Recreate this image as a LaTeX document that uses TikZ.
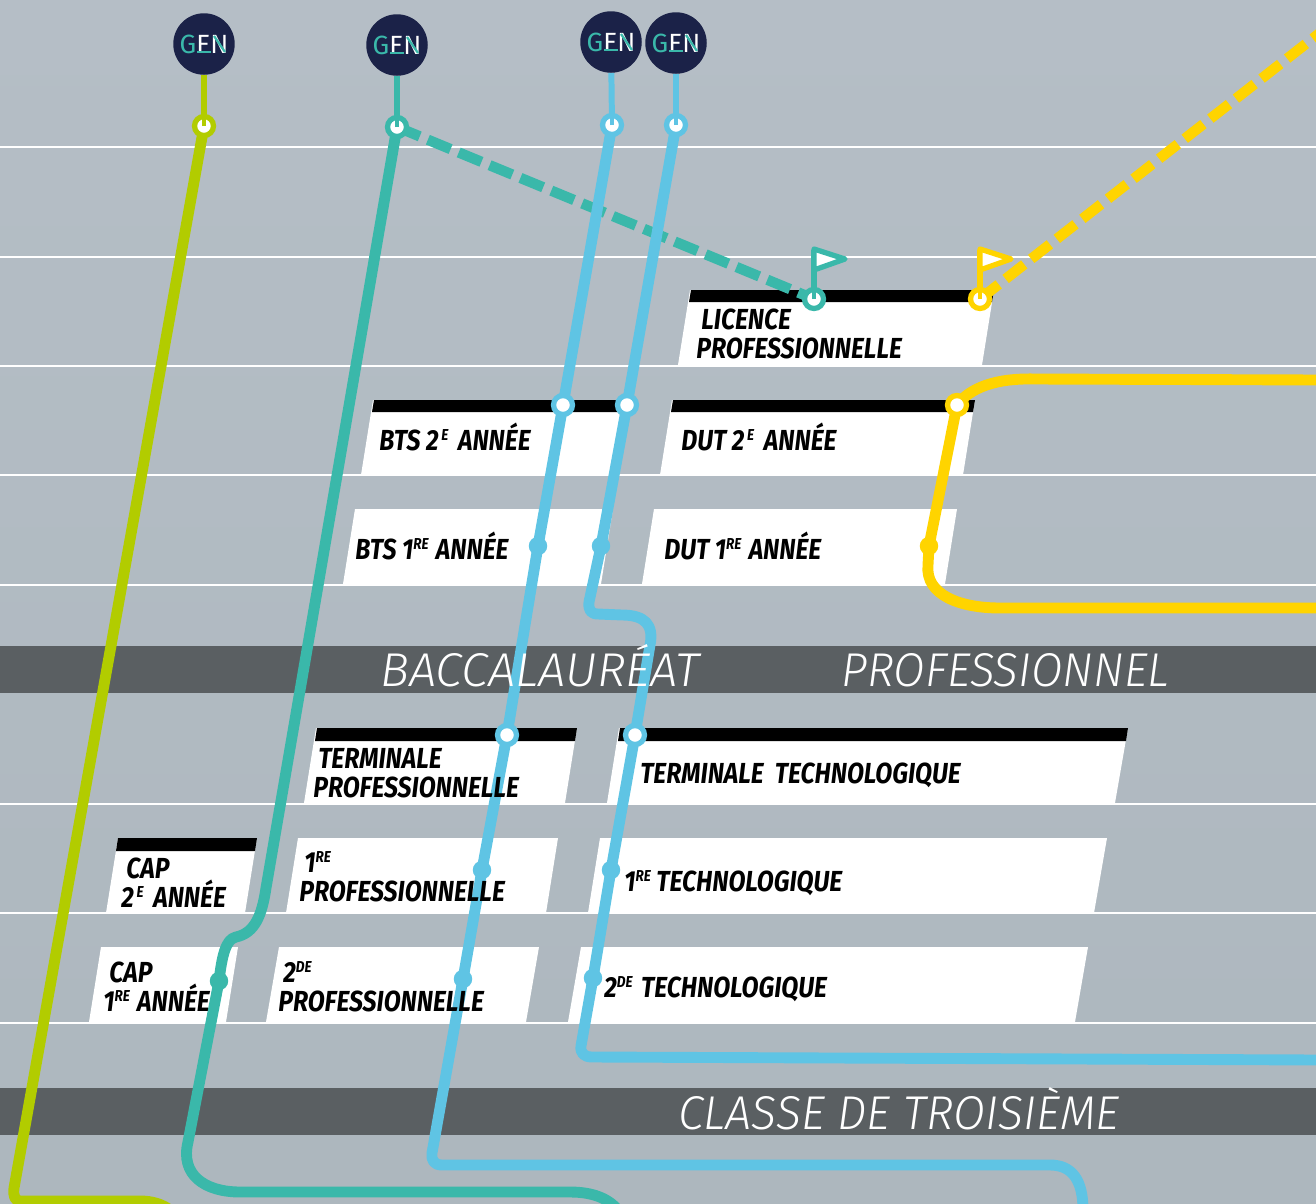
\documentclass[tikz,border=0pt]{standalone}
\usepackage{fontspec}
\setmainfont{Fira Sans}
\newfontfamily\cardfont[FakeStretch=0.855]{Fira Sans}
\newfontfamily\bandfont{Fira Sans Light}
\newfontfamily\genfont[LetterSpace=8]{Fira Sans}
\definecolor{skyback}{HTML}{B5BEC6}
\definecolor{skyfoot}{HTML}{ADB7BE}
\definecolor{bandgrey}{HTML}{5A5F62}
\definecolor{olivebar}{HTML}{B2CC00}
\definecolor{tealbar}{HTML}{3AB8AA}
\definecolor{bluebar}{HTML}{5FC4E4}
\definecolor{yellowbar}{HTML}{FFD400}
\definecolor{navygen}{HTML}{1B2248}
\newcommand{\sups}[1]{\smash{\raisebox{5.3pt}{\fontsize{9}{10}\selectfont #1}}}
\newcommand{\genword}{{\color{tealbar}G}{\color{white}E}{\color{white}N}}
\newcommand{\genmark}[1]{%
  \draw[tealbar,line width=1.5pt] ([shift={(-7,8)}]#1.center) -- ([shift={(7,8)}]#1.center);
  \draw[tealbar,line width=1.3pt] ([shift={(10,-8)}]#1.center) -- ([shift={(21,8)}]#1.center);
}
\tikzset{
  card/.style={fill=white},
  cardbar/.style={fill=black},
  cardlabel/.style={anchor=base west,inner sep=0pt,font=\cardfont\bfseries\itshape\fontsize{16.5}{18}\selectfont},
  bandlabel/.style={anchor=base west,inner sep=0pt,text=white,font=\bandfont\itshape\fontsize{27}{30}\selectfont},
  gridline/.style={white,line width=0.85pt},
  stem/.style={line width=3.4pt},
  metro/.style={line width=6.2pt,line join=round},
  genbadge/.style={circle,fill=navygen,minimum size=35pt,inner sep=0pt,font=\genfont\fontsize{15}{15}\selectfont},
  ring/.style={circle,draw=#1,line width=3pt,fill=white,minimum size=10.8pt,inner sep=0pt},
  halt/.style={circle,fill=#1,minimum size=10.5pt,inner sep=0pt},
  flagcloth/.style={draw=#1,fill=white,line width=3pt,line join=round}
}
\begin{document}
\begin{tikzpicture}[x=0.02cm,y=-0.02cm]
\useasboundingbox (0,0) rectangle (1316,1204);
\clip (0,0) rectangle (1316,1204);
%%%% Background:
\fill[top color=skyback,bottom color=skyfoot] (0,0) rectangle (1316,1204);
%%%% horizontal lines
\draw[gridline] (0,147) -- (1316,147);
\draw[gridline] (0,257) -- (1316,257);
\draw[gridline] (0,366) -- (1316,366);
\draw[gridline] (0,475) -- (1316,475);
\draw[gridline] (0,585) -- (1316,585);
\draw[gridline] (0,804) -- (1316,804);
\draw[gridline] (0,913) -- (1316,913);
\draw[gridline] (0,1023) -- (1316,1023);
%%%% Grey bands:
\fill[bandgrey] (0,646) rectangle (1316,693);
\fill[bandgrey] (0,1088) rectangle (1316,1135);
%%%% Cards:
\fill[card] (690,290) -- (994,290) -- (982,365) -- (678,365) -- cycle;
\fill[cardbar] (691,290) -- (994,290) -- (992,302) -- (689,302) -- cycle;
\fill[card] (373,400) -- (630,400) -- (618,475) -- (361,475) -- cycle;
\fill[cardbar] (374,400) -- (630,400) -- (628,412) -- (372,412) -- cycle;
\fill[card] (672,400) -- (975,400) -- (963,475) -- (660,475) -- cycle;
\fill[cardbar] (673,400) -- (975,400) -- (973,412) -- (671,412) -- cycle;
\fill[card] (355,509) -- (613,509) -- (601,584) -- (343,584) -- cycle;
\fill[card] (654,509) -- (957,509) -- (945,584) -- (642,584) -- cycle;
\fill[card] (316,728) -- (577,728) -- (565,803) -- (304,803) -- cycle;
\fill[cardbar] (317,728) -- (577,728) -- (575,741) -- (315,741) -- cycle;
\fill[card] (619,728) -- (1128,728) -- (1115,803) -- (607,803) -- cycle;
\fill[cardbar] (620,728) -- (1128,728) -- (1126,741) -- (618,741) -- cycle;
\fill[card] (118,838) -- (257,838) -- (245,913) -- (106,913) -- cycle;
\fill[cardbar] (118,838) -- (257,838) -- (255,851) -- (116,851) -- cycle;
\fill[card] (298,838) -- (558,838) -- (546,913) -- (286,913) -- cycle;
\fill[card] (600,838) -- (1107,838) -- (1094,913) -- (588,913) -- cycle;
\fill[card] (101,947) -- (238,947) -- (226,1022) -- (89,1022) -- cycle;
\fill[card] (279,947) -- (539,947) -- (526,1022) -- (266,1022) -- cycle;
\fill[card] (581,947) -- (1088,947) -- (1075,1022) -- (568,1022) -- cycle;
%%%% Way points:
\coordinate (oliveA) at (14,1188);
\coordinate (oliveB) at (20,1201);
\coordinate (oliveC) at (140,1201);
\coordinate (oliveD) at (170,1210);
\coordinate (tealA) at (266,888);
\coordinate (tealB) at (236,937);
\coordinate (tealC) at (188,1142);
\coordinate (tealD) at (240,1192);
\coordinate (tealE) at (570,1192);
\coordinate (tealF) at (618,1210);
\coordinate (skyA) at (432,1153);
\coordinate (skyB) at (442,1165);
\coordinate (skyC) at (1050,1165);
\coordinate (skyD) at (1083,1210);
\coordinate (azurA) at (589,602);
\coordinate (azurB) at (598,614);
\coordinate (azurC) at (622,615);
\coordinate (azurD) at (581,1046);
\coordinate (azurE) at (592,1057);
\coordinate (azurF) at (1320,1060);
\coordinate (yellowA) at (1320,380);
\coordinate (yellowB) at (1035,379);
\coordinate (yellowC) at (928,565);
\coordinate (yellowD) at (1000,608);
\coordinate (yellowE) at (1320,608);
\coordinate (yellowF) at (1330,25);
%%%% GEN badges and stations:
\node[genbadge] (genO) at (204,44) {\genword};
\node[genbadge] (genT) at (397,45) {\genword};
\node[genbadge] (genS) at (611,42) {\genword};
\node[genbadge] (genA) at (676,43) {\genword};
\genmark{genO}
\genmark{genT}
\genmark{genS}
\genmark{genA}
\coordinate (ringO) at (204,126);
\coordinate (ringT) at (397,127);
\coordinate (ringS) at (612,125);
\coordinate (ringA) at (676,125);
\coordinate (ringTeal) at (814,299);
\coordinate (ringGold) at (980,299);
\coordinate (ringDut) at (957,405);
\coordinate (ringBtsS) at (563,405);
\coordinate (ringBtsA) at (627,405);
\coordinate (ringTermS) at (507,735);
\coordinate (ringTermA) at (635,735);
\coordinate (haltBtsS) at (538,546);
\coordinate (haltBtsA) at (601,546);
\coordinate (haltDut) at (929,546);
\coordinate (haltPremS) at (482,870);
\coordinate (haltPremA) at (611,870);
\coordinate (haltSecS) at (463,979);
\coordinate (haltSecA) at (593,978);
\coordinate (haltCap) at (219,981);
%%%% Dashed lines:
\draw[tealbar,line width=5.9pt,dash pattern=on 14pt off 5pt] (ringT) -- (ringTeal);
\draw[yellowbar,line width=5.9pt,dash pattern=on 13.5pt off 5pt] (ringGold) -- (yellowF);
%%%% Olive line:
\draw[olivebar,stem] (genO) -- (ringO);
\draw[olivebar,metro] (ringO) -- (oliveA) .. controls (13,1196) and (15,1201) .. (oliveB) -- (oliveC) .. controls (152,1201) and (162,1204) .. (oliveD);
%%%% Teal line:
\draw[tealbar,stem] (genT) -- (ringT);
\draw[tealbar,metro] (ringT) -- (tealA) .. controls (262,915) and (255,933) .. (tealB) .. controls (226,939) and (222,955) .. (haltCap) -- (tealC) .. controls (180,1175) and (205,1192) .. (tealD) -- (tealE) .. controls (592,1192) and (608,1198) .. (tealF);
%%%% Blue lines:
\draw[bluebar,stem] (genS) -- (ringS);
\draw[bluebar,stem] (genA) -- (ringA);
\draw[bluebar,metro] (ringS) -- (ringBtsS) -- (haltBtsS) -- (ringTermS) -- (haltPremS) -- (haltSecS) -- (skyA) .. controls (431,1160) and (434,1165) .. (skyB) -- (skyC) .. controls (1072,1165) and (1083,1180) .. (skyD);
\draw[bluebar,metro] (ringA) -- (ringBtsA) -- (haltBtsA) -- (azurA) .. controls (588,610) and (591,614) .. (azurB) -- (azurC) .. controls (645,615) and (654,625) .. (650,645) -- (ringTermA) -- (haltPremA) -- (haltSecA) -- (azurD) .. controls (580,1053) and (584,1057) .. (azurE) -- (azurF);
%%%% Yellow line:
\draw[yellowbar,metro] (yellowA) -- (yellowB) .. controls (995,378) and (970,388) .. (ringDut) -- (haltDut) -- (yellowC) .. controls (925,595) and (960,608) .. (yellowD) -- (yellowE);
%%%% Flags:
\draw[tealbar,line width=3.4pt] (ringTeal) -- (814,250);
\draw[flagcloth=tealbar] (814,249) -- (845,259) -- (814,270) -- cycle;
\draw[yellowbar,line width=3.4pt] (ringGold) -- (980,250);
\draw[flagcloth=yellowbar] (980,249) -- (1011,259) -- (980,270) -- cycle;
%%%% Station dots:
\node[ring=olivebar] (stO) at (ringO) {};
\node[ring=tealbar] (stT) at (ringT) {};
\node[ring=bluebar] (stS) at (ringS) {};
\node[ring=bluebar] (stA) at (ringA) {};
\draw[olivebar,line width=2.2pt] (stO.center) -- (stO.north);
\draw[tealbar,line width=2.2pt] (stT.center) -- (stT.north);
\draw[bluebar,line width=2.2pt] (stS.center) -- (stS.north);
\draw[bluebar,line width=2.2pt] (stA.center) -- (stA.north);
\node[ring=tealbar] (stLicT) at (ringTeal) {};
\node[ring=yellowbar] (stLicG) at (ringGold) {};
\draw[tealbar,line width=2.2pt] (stLicT.center) -- (stLicT.north);
\draw[yellowbar,line width=2.2pt] (stLicG.center) -- (stLicG.north);
\node[ring=yellowbar] (stDut) at (ringDut) {};
\node[ring=bluebar] (stBtsS) at (ringBtsS) {};
\node[ring=bluebar] (stBtsA) at (ringBtsA) {};
\node[ring=bluebar] (stTermS) at (ringTermS) {};
\node[ring=bluebar] (stTermA) at (ringTermA) {};
\node[halt=bluebar] (dotBtsS) at (haltBtsS) {};
\node[halt=bluebar] (dotBtsA) at (haltBtsA) {};
\node[halt=yellowbar] (dotDut) at (haltDut) {};
\node[halt=bluebar] (dotPremS) at (haltPremS) {};
\node[halt=bluebar] (dotPremA) at (haltPremA) {};
\node[halt=bluebar] (dotSecS) at (haltSecS) {};
\node[halt=bluebar] (dotSecA) at (haltSecA) {};
\node[halt=tealbar] (dotCap) at (haltCap) {};
%%%% Card labels:
\node[cardlabel] (licA) at (701,329) {LICENCE};
\node[cardlabel] (licB) at (696,358) {PROFESSIONNELLE};
\node[cardlabel] (btsB) at (379,450) {BTS 2\kern1.5pt\sups{E}\kern2.4pt\ ANNÉE};
\node[cardlabel] (dutB) at (681,450) {DUT 2\kern1.5pt\sups{E}\kern2.4pt\ ANNÉE};
\node[cardlabel] (btsA) at (355,559) {BTS 1\sups{RE}\kern1pt\ ANNÉE};
\node[cardlabel] (dutA) at (664,559) {DUT 1\sups{RE}\kern1pt\ ANNÉE};
\node[cardlabel] (termA) at (318,768) {TERMINALE};
\node[cardlabel] (termB) at (313,797) {PROFESSIONNELLE};
\node[cardlabel] (termT) at (640,783) {TERMINALE\ \ TECHNOLOGIQUE};
\node[cardlabel] (capBa) at (126,878) {CAP};
\node[cardlabel] (capBb) at (121,907) {2\kern1.5pt\sups{E}\kern2.4pt\ ANNÉE};
\node[cardlabel] (premA) at (304,872) {1\sups{RE}};
\node[cardlabel] (premB) at (299,901) {PROFESSIONNELLE};
\node[cardlabel] (premT) at (624,891) {1\sups{RE}\ TECHNOLOGIQUE};
\node[cardlabel] (capAa) at (109,982) {CAP};
\node[cardlabel] (capAb) at (103,1011) {1\sups{RE}\kern1pt\ ANNÉE};
\node[cardlabel] (secA) at (283,982) {2\sups{DE}};
\node[cardlabel] (secB) at (278,1011) {PROFESSIONNELLE};
\node[cardlabel] (secT) at (604,997) {2\sups{DE}\kern1.7pt\ TECHNOLOGIQUE};
%%%% Band labels:
\node[bandlabel] (bac) at (380,686) {\scalebox{1.026}[1]{BACCALAURÉAT}};
\node[bandlabel] (pro) at (841,686) {\scalebox{0.964}[1]{PROFESSIONNEL}};
\node[bandlabel] (troi) at (678,1129) {\scalebox{0.98}[1]{CLASSE DE TROISIÈME}};
\end{tikzpicture}
\end{document}
